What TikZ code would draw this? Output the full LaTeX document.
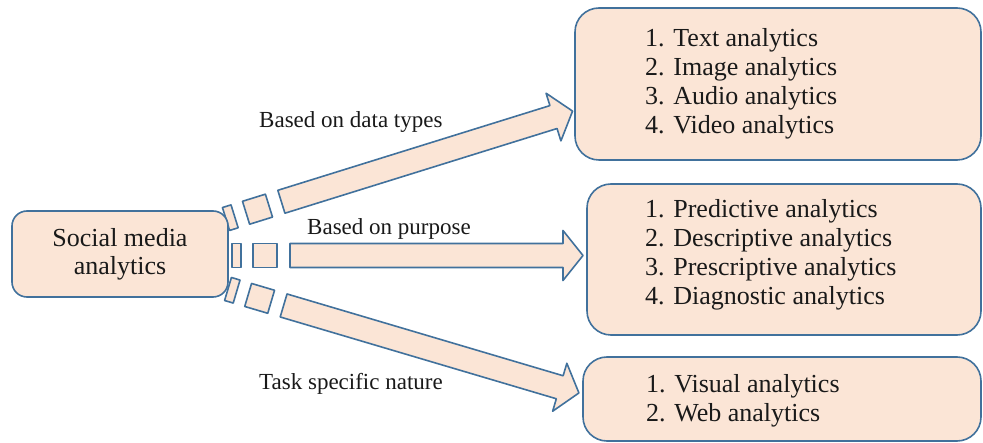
\documentclass[tikz,border=0pt]{standalone}
\usepackage{fontspec}
\setmainfont{Liberation Serif}
\definecolor{boxfill}{RGB}{251,229,214}
\definecolor{boxline}{RGB}{65,113,156}
\definecolor{txt}{RGB}{25,25,25}
\tikzset{
  shapesty/.style={fill=boxfill, draw=boxline, line width=1.6pt, line join=round},
  leftbox/.style={shapesty, rounded corners=15pt, minimum width=216pt, minimum height=86pt,
    inner sep=0pt, align=center, font=\fontsize{26}{28}\selectfont, text=txt},
  rightbox/.style={shapesty, rounded corners=24pt, inner sep=0pt},
  listtext/.style={anchor=west, align=left, inner sep=0pt, font=\fontsize{26}{29}\selectfont, text=txt},
  edgelabel/.style={anchor=west, inner sep=0pt, font=\fontsize{23}{26}\selectfont, text=txt},
  pics/stripedarrow/.style={code={
    \path[shapesty] (0,-12) rectangle (9,12);
    \path[shapesty] (21,-12) rectangle (45,12);
    \path[shapesty] (58,-12) -- ({#1-20},-12) -- ({#1-20},-25) -- (#1,0)
      -- ({#1-20},25) -- ({#1-20},12) -- (58,12) -- cycle;
  }}
}
\begin{document}
\begin{tikzpicture}[x=1pt,y=1pt]
\useasboundingbox (0,0) rectangle (983,-443);
% striped block arrows
\coordinate (s1) at (226,-219);
\coordinate (s2) at (232,-255.5);
\coordinate (s3) at (228,-289);
\pic (a1) [rotate=17.29] at (s1) {stripedarrow=363};
\pic (a2) at (s2) {stripedarrow=351};
\pic (a3) [rotate=-16.5] at (s3) {stripedarrow=366};
% boxes
\node[leftbox] (sma) at (120,-254) {Social media\\analytics};
\node[rightbox, minimum width=406pt, minimum height=152pt] (b1) at (778,-84) {};
\node[rightbox, minimum width=394pt, minimum height=151pt] (b2) at (784,-259.5) {};
\node[rightbox, minimum width=398pt, minimum height=84pt] (b3) at (782,-399) {};
\node[listtext] (t1) at (645,-84) {1. Text analytics\\2. Image analytics\\3. Audio analytics\\4. Video analytics};
\node[listtext] (t2) at (645,-255) {1. Predictive analytics\\2. Descriptive analytics\\3. Prescriptive analytics\\4. Diagnostic analytics};
\node[listtext] (t3) at (646,-401) {1. Visual analytics\\2. Web analytics};
% labels
\node[edgelabel] (l1) at (259,-122) {Based on data types};
\node[edgelabel] (l2) at (307,-229) {Based on purpose};
\node[edgelabel] (l3) at (259,-384) {Task specific nature};
\end{tikzpicture}
\end{document}
